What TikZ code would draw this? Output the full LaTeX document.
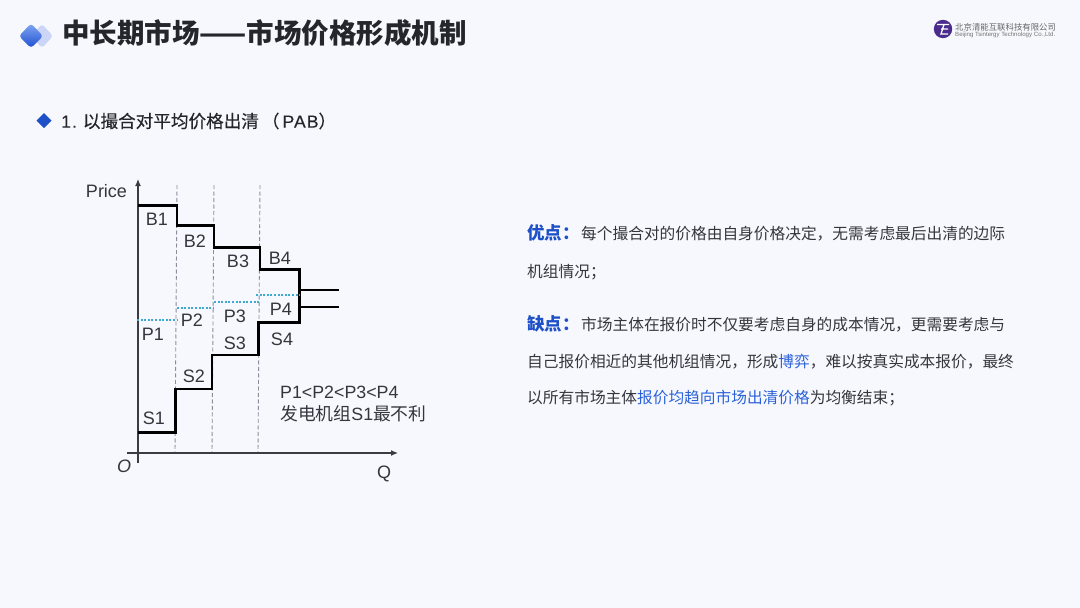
\documentclass[tikz,border=0pt]{standalone}
\usepackage{fontspec}
\setmainfont{Noto Sans CJK SC}
\newfontfamily\arialf{Liberation Sans}
\newfontfamily\cjkf{Noto Sans CJK SC}
\newfontfamily\medf[FakeBold=0.3]{Noto Sans CJK SC}
\newfontfamily\medlat[FakeBold=0.3,LetterSpace=6]{Liberation Sans}
\usetikzlibrary{arrows.meta}
\definecolor{bgc}{HTML}{F7F8FE}
\definecolor{txtc}{HTML}{33363C}
\definecolor{titlec}{HTML}{24262B}
\definecolor{bluec}{HTML}{1E50C8}
\definecolor{linkc}{HTML}{2A62D8}
\definecolor{dashc}{HTML}{8A8F9C}
\definecolor{dotc}{HTML}{3FA9CF}
\definecolor{axisc}{HTML}{3A3C42}
\definecolor{logoc}{HTML}{4A2C8F}
\definecolor{icontop}{HTML}{7FA6F2}
\definecolor{iconbot}{HTML}{1F4FD0}
\definecolor{iconback}{HTML}{CBD5F6}
\tikzset{
  x=1pt,y=-1pt,
  titlelabel/.style={anchor=west,inner sep=0pt,text=titlec,font=\fontsize{27.5}{30}\selectfont\bfseries},
  headlabel/.style={anchor=west,inner sep=0pt,text=titlec,font=\medf\fontsize{17.6}{20}\selectfont},
  bodylabel/.style={anchor=west,inner sep=0pt,text=txtc,font=\fontsize{15.7}{18}\selectfont},
  prolabel/.style={anchor=west,inner sep=0pt,text=bluec,font=\fontsize{17.5}{18}\selectfont\bfseries},
  chartlabel/.style={inner sep=0pt,text=txtc,font=\arialf\fontsize{18}{20}\selectfont},
  chartnote/.style={anchor=west,inner sep=0pt,text=txtc,font=\arialf\fontsize{17.8}{20}\selectfont},
  axisline/.style={draw=axisc,line width=1.2pt,-{Latex[length=7pt,width=6pt]}},
  guide/.style={draw=dashc,line width=0.9pt,dash pattern=on 4pt off 2.5pt},
  stairs/.style={draw=black,line width=2.5pt,line join=miter},
  tailline/.style={draw=black,line width=2.2pt},
  priceline/.style={draw=dotc,line width=2pt,dash pattern=on 2pt off 1.6pt},
}
\begin{document}
\begin{tikzpicture}
\useasboundingbox (0,0) rectangle (1080,608);
\fill[bgc] (0,0) rectangle (1080,608);

% title icon
\fill[rounded corners=3pt,iconback] (42,24) -- (53,36) -- (42,48) -- (31,36) -- cycle;
\shade[rounded corners=3pt,top color=icontop,bottom color=iconbot] (31,23.5) -- (43,36) -- (31,48) -- (19,36) -- cycle;
\node[titlelabel] (title) at (62,33) {中长期市场——市场价格形成机制};

% logo
\fill[logoc] (943,29) circle (9.2);
\draw[white,line width=1.3pt] (937,24.5) -- (949,24.5) (944,24.5) -- (941,34) -- (948,34) (941,29) -- (948,29);
\node[anchor=west,inner sep=0pt,text=black!60,font=\fontsize{8.4}{9}\selectfont] (logoa) at (955,27) {北京清能互联科技有限公司};
\node[anchor=west,inner sep=0pt,text=black!55,font=\arialf\fontsize{6.1}{7}\selectfont] (logob) at (955,34.5) {Beijing Tsintergy Technology Co.,Ltd.};

% heading
\fill[bluec] (44,113) -- (51.5,120.5) -- (44,128) -- (36.5,120.5) -- cycle;
\node[headlabel] (head) at (61,121) {{\medlat 1.}\hspace{6pt}以撮合对平均价格出清\hspace{3pt}（\hspace{3pt}{\medlat PAB}）};

% chart coordinates
\coordinate (yb) at (138,463);
\coordinate (yt) at (138,179);
\coordinate (xl) at (127,453);
\coordinate (xr) at (398,453);
\coordinate (g1t) at (177,185); \coordinate (g1b) at (175,453);
\coordinate (g2t) at (214,185); \coordinate (g2b) at (212,453);
\coordinate (g3t) at (260,185); \coordinate (g3b) at (258,453);
\coordinate (b0) at (138,205.7); \coordinate (b1) at (177,205.7);
\coordinate (b2) at (177,225.7); \coordinate (b3) at (214,225.7);
\coordinate (b4) at (214,247.7); \coordinate (b5) at (260,247.7);
\coordinate (b6) at (260,269.3); \coordinate (b7) at (299.6,269.3);
\coordinate (s7) at (299.6,322.3); \coordinate (s6) at (258.6,322.3);
\coordinate (s5) at (258.6,355); \coordinate (s4) at (212,355);
\coordinate (s3) at (212,389); \coordinate (s2) at (175.5,389);
\coordinate (s1) at (175.5,432.7); \coordinate (s0) at (138,432.7);
\coordinate (ta) at (299.6,290.3); \coordinate (tb) at (338.6,290.3);
\coordinate (tc) at (299.6,307.3); \coordinate (td) at (338.6,307.3);
\coordinate (p1a) at (137,320); \coordinate (p1b) at (177,320);
\coordinate (p2a) at (177,308.3); \coordinate (p2b) at (214,308.3);
\coordinate (p3a) at (214,302.3); \coordinate (p3b) at (260,302.3);
\coordinate (p4a) at (256,295.3); \coordinate (p4b) at (300,295.3);

\draw[guide] (g1t) -- (g1b);
\draw[guide] (g2t) -- (g2b);
\draw[guide] (g3t) -- (g3b);
\draw[axisline] (yb) -- (yt);
\draw[axisline] (xl) -- (xr);
\draw[stairs] (b0) -- (b1) -- (b2) -- (b3) -- (b4) -- (b5) -- (b6) -- (b7) -- (s7) -- (s6) -- (s5) -- (s4) -- (s3) -- (s2) -- (s1) -- (s0);
\draw[tailline] (ta) -- (tb);
\draw[tailline] (tc) -- (td);
\draw[priceline] (p1a) -- (p1b);
\draw[priceline] (p2a) -- (p2b);
\draw[priceline] (p3a) -- (p3b);
\draw[priceline] (p4a) -- (p4b);

\node[chartlabel] (price) at (106.5,191) {Price};
\node[chartlabel] (B1) at (157,219) {B1};
\node[chartlabel] (B2) at (195,241) {B2};
\node[chartlabel] (B3) at (238,261) {B3};
\node[chartlabel] (B4) at (280,258.5) {B4};
\node[chartlabel] (P1) at (153,334) {P1};
\node[chartlabel] (P2) at (192,320.5) {P2};
\node[chartlabel] (P3) at (235,316) {P3};
\node[chartlabel] (P4) at (281,309) {P4};
\node[chartlabel] (S1) at (154,418) {S1};
\node[chartlabel] (S2) at (194,376) {S2};
\node[chartlabel] (S3) at (235,343) {S3};
\node[chartlabel] (S4) at (282,339) {S4};
\node[chartnote] (noteA) at (280,392) {P1<P2<P3<P4};
\node[chartnote] (noteB) at (280,414) {\cjkf 发电机组\arialf S1\cjkf 最不利};
\node[chartlabel,font=\arialf\itshape\fontsize{18}{20}\selectfont] (O) at (124,466) {O};
\node[chartlabel] (Q) at (384,474) {Q};

% right text
\node[prolabel] (pro) at (527,233) {优点：};
\node[bodylabel] (proA) at (581,234) {每个撮合对的价格由自身价格决定，无需考虑最后出清的边际};
\node[bodylabel] (proB) at (527,272) {机组情况；};
\node[prolabel] (con) at (527,324) {缺点：};
\node[bodylabel] (conA) at (581,325) {市场主体在报价时不仅要考虑自身的成本情况，更需要考虑与};
\node[bodylabel] (conB) at (527,361.5) {自己报价相近的其他机组情况，形成\textcolor{linkc}{博弈}，难以按真实成本报价，最终};
\node[bodylabel] (conC) at (527,398) {以所有市场主体\textcolor{linkc}{报价均趋向市场出清价格}为均衡结束；};
\end{tikzpicture}
\end{document}
